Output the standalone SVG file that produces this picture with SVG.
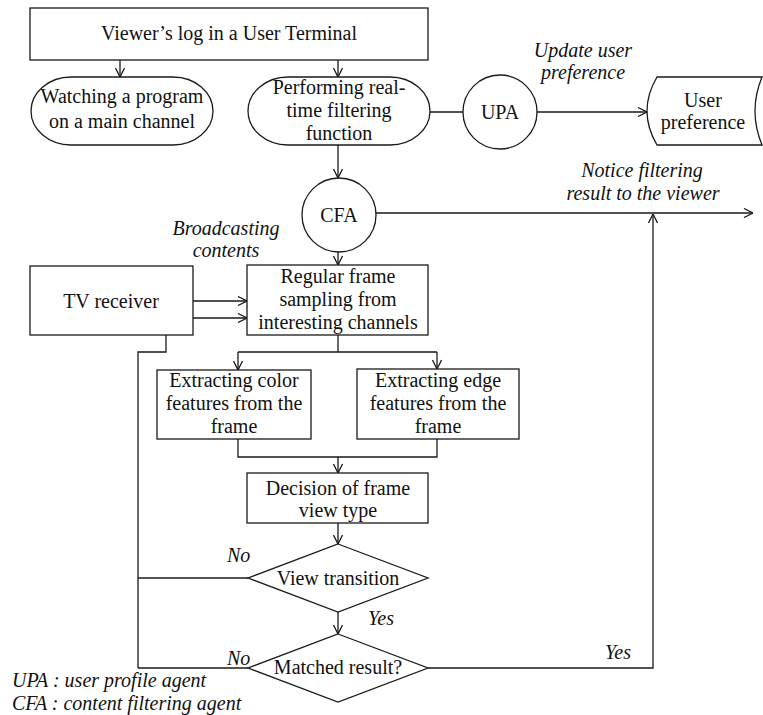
<svg xmlns="http://www.w3.org/2000/svg" width="763" height="715" viewBox="0 0 763 715">
<defs>
<style>
.n{fill:#fff;stroke:#1a1a1a;stroke-width:1.3}
.c{fill:none;stroke:#1a1a1a;stroke-width:1.3}
text{font-family:"Liberation Serif","Times New Roman",serif;font-size:20px;fill:#111}
.m{text-anchor:middle}
.i{font-style:italic}
</style>
<marker id="ah" viewBox="0 0 10 10" refX="10" refY="5" markerWidth="10" markerHeight="10" markerUnits="userSpaceOnUse" orient="auto">
<path d="M1,0.5 L10,5 L1,9.5" fill="none" stroke="#1a1a1a" stroke-width="1.3"/>
</marker>
</defs>
<rect width="763" height="715" fill="#fff"/>

<g id="connectors">
<line class="c" x1="120" y1="60" x2="120" y2="77" marker-end="url(#ah)"/>
<line class="c" x1="338" y1="60" x2="338" y2="77" marker-end="url(#ah)"/>
<line class="c" x1="430" y1="112" x2="463" y2="112"/>
<line class="c" x1="537" y1="112" x2="647" y2="112" marker-end="url(#ah)"/>
<line class="c" x1="338" y1="145" x2="338" y2="178" marker-end="url(#ah)"/>
<line class="c" x1="375" y1="213" x2="753" y2="213" marker-end="url(#ah)"/>
<line class="c" x1="338" y1="252" x2="338" y2="265" marker-end="url(#ah)"/>
<line class="c" x1="193" y1="301" x2="247" y2="301" marker-end="url(#ah)"/>
<polyline class="c" points="138,668 138,352 166,352 166,318 247,318" marker-end="url(#ah)"/>
<line class="c" x1="138" y1="578" x2="248" y2="578"/>
<line class="c" x1="138" y1="668" x2="248" y2="668"/>
<line class="c" x1="338" y1="335" x2="338" y2="352"/>
<line class="c" x1="238" y1="352" x2="437" y2="352"/>
<line class="c" x1="238" y1="352" x2="238" y2="370" marker-end="url(#ah)"/>
<line class="c" x1="437" y1="352" x2="437" y2="369" marker-end="url(#ah)"/>
<polyline class="c" points="238,439 238,457 437,457 437,439"/>
<line class="c" x1="338" y1="457" x2="338" y2="473" marker-end="url(#ah)"/>
<line class="c" x1="338" y1="523" x2="338" y2="544" marker-end="url(#ah)"/>
<line class="c" x1="338" y1="612" x2="338" y2="634" marker-end="url(#ah)"/>
<polyline class="c" points="428,668 653,668 653,214" marker-end="url(#ah)"/>
</g>

<g id="labels">
<text class="i m" x="583" y="57">Update user</text>
<text class="i m" x="583" y="79">preference</text>
<text class="i m" x="642" y="177">Notice filtering</text>
<text class="i m" x="643" y="200">result to the viewer</text>
<text class="i m" x="226" y="235">Broadcasting</text>
<text class="i m" x="226" y="257">contents</text>
<text class="i" x="227" y="562">No</text>
<text class="i" x="368" y="625">Yes</text>
<text class="i" x="227" y="665">No</text>
<text class="i" x="605" y="659">Yes</text>
<text class="i" x="12" y="687">UPA : user profile agent</text>
<text class="i" x="12" y="710">CFA : content filtering agent</text>
</g>

<g id="login">
<rect class="n" x="30" y="8" width="398" height="52"/>
<text class="m" x="229" y="40">Viewer’s log in a User Terminal</text>
</g>
<g id="watching">
<rect class="n" x="31" y="77" width="182" height="68" rx="40" ry="34"/>
<text class="m" x="122" y="103">Watching a program</text>
<text class="m" x="122" y="128">on a main channel</text>
</g>
<g id="performing">
<rect class="n" x="248" y="77" width="182" height="68" rx="40" ry="34"/>
<text class="m" x="339" y="94">Performing real-</text>
<text class="m" x="339" y="117">time filtering</text>
<text class="m" x="339" y="140">function</text>
</g>
<g id="upa">
<circle class="n" cx="500" cy="112" r="37"/>
<text class="m" x="500" y="119">UPA</text>
</g>
<g id="userpref">
<path class="n" d="M657,77 L762,77 Q748,111 762,145 L657,145 Q637,111 657,77 Z"/>
<text class="m" x="703" y="107">User</text>
<text class="m" x="703" y="129">preference</text>
</g>
<g id="cfa">
<circle class="n" cx="339" cy="215" r="37"/>
<text class="m" x="339" y="222">CFA</text>
</g>
<g id="tv">
<rect class="n" x="30" y="266" width="163" height="69"/>
<text class="m" x="111" y="308">TV receiver</text>
</g>
<g id="sampling">
<rect class="n" x="247" y="265" width="181" height="70"/>
<text class="m" x="338" y="283">Regular frame</text>
<text class="m" x="338" y="306">sampling from</text>
<text class="m" x="338" y="329">interesting channels</text>
</g>
<g id="color">
<rect class="n" x="157" y="370" width="154" height="69"/>
<text class="m" x="234" y="387">Extracting color</text>
<text class="m" x="234" y="410">features from the</text>
<text class="m" x="234" y="433">frame</text>
</g>
<g id="edge">
<rect class="n" x="357" y="369" width="162" height="70"/>
<text class="m" x="438" y="387">Extracting edge</text>
<text class="m" x="438" y="410">features from the</text>
<text class="m" x="438" y="433">frame</text>
</g>
<g id="decision">
<rect class="n" x="247" y="473" width="181" height="50"/>
<text class="m" x="338" y="495">Decision of frame</text>
<text class="m" x="338" y="517">view type</text>
</g>
<g id="viewtransition">
<polygon class="n" points="338,544 428,578 338,612 248,578"/>
<text class="m" x="338" y="585">View transition</text>
</g>
<g id="matched">
<polygon class="n" points="338,634 428,668 338,702 248,668"/>
<text class="m" x="338" y="674">Matched result?</text>
</g>
</svg>
